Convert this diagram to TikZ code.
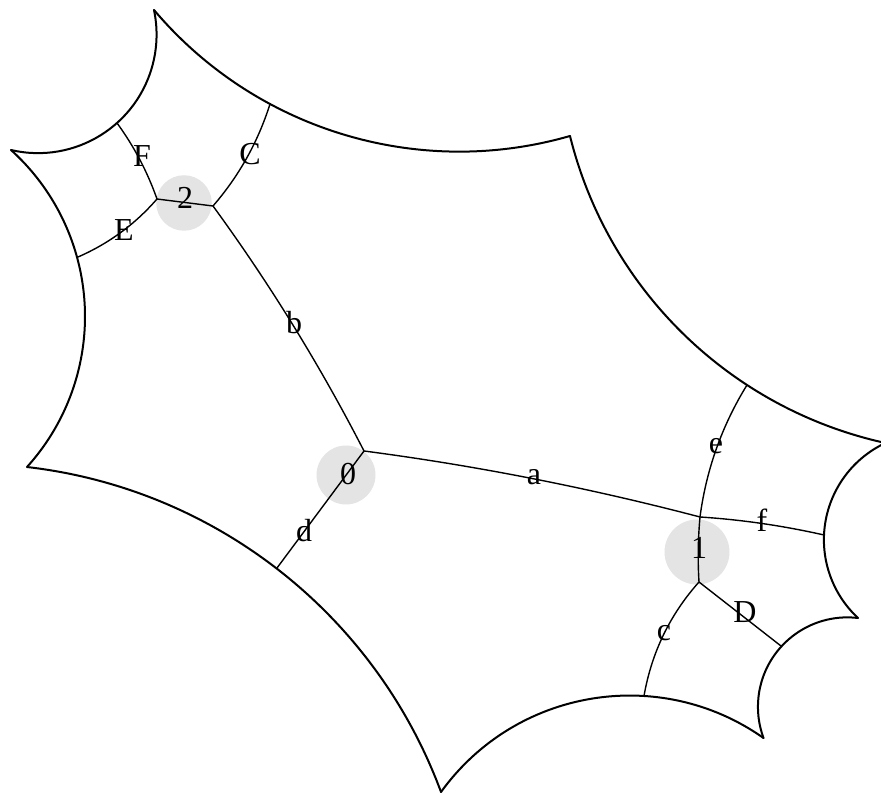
\documentclass[tikz,border=0pt]{standalone}
\usepackage{fontspec}
\usetikzlibrary{calc}
\setmainfont{Liberation Serif}
\newcommand\geoarc[7]{%
  % #1 start coordinate name; numeric start (#2,#3), through (#4,#5), end (#6,#7)
  \pgfmathsetmacro\ax{#2/100}\pgfmathsetmacro\ay{#3/100}%
  \pgfmathsetmacro\bx{#4/100}\pgfmathsetmacro\by{#5/100}%
  \pgfmathsetmacro\cx{#6/100}\pgfmathsetmacro\cy{#7/100}%
  \pgfmathsetmacro\dd{2*(\ax*(\by-\cy)+\bx*(\cy-\ay)+\cx*(\ay-\by))}%
  \pgfmathsetmacro\sa{\ax*\ax+\ay*\ay}\pgfmathsetmacro\sb{\bx*\bx+\by*\by}\pgfmathsetmacro\sc{\cx*\cx+\cy*\cy}%
  \pgfmathsetmacro\ux{(\sa*(\by-\cy)+\sb*(\cy-\ay)+\sc*(\ay-\by))/\dd}%
  \pgfmathsetmacro\uy{(\sa*(\cx-\bx)+\sb*(\ax-\cx)+\sc*(\bx-\ax))/\dd}%
  \pgfmathsetmacro\rr{100*veclen(\ax-\ux,\ay-\uy)}%
  \pgfmathsetmacro\tstart{atan2(\ay-\uy,\ax-\ux)}%
  \pgfmathsetmacro\tend{atan2(\cy-\uy,\cx-\ux)}%
  \pgfmathsetmacro\tfinal{\dd>0 ? (\tend<\tstart ? \tend+360 : \tend) : (\tend>\tstart ? \tend-360 : \tend)}%
  \draw[boundary] (#1) arc[start angle=\tstart,end angle=\tfinal,radius=\rr];%
}
% true quadratic curve from #1 to #3 with control #2
\newcommand\qedge[3]{\draw[edgeline] (#1) .. controls ($(#1)!0.6667!(#2)$) and ($(#3)!0.6667!(#2)$) .. (#3);}
\definecolor{hubgrey}{HTML}{E4E4E4}
\tikzset{
  boundary/.style={line width=2pt,black,line cap=round,line join=round},
  edgeline/.style={line width=1.4pt,black},
  hub/.style={circle,fill=hubgrey,draw=none,inner sep=0pt},
  lab/.style={inner sep=0pt,font=\fontsize{32}{32}\selectfont,text=black}
}
\begin{document}
\begin{tikzpicture}[x=1pt,y=1pt]
\useasboundingbox (0,0) rectangle (881,794);
% grey discs
\node[hub,minimum size=59pt] (h0) at (346,319) {};
\node[hub,minimum size=65pt] (h1) at (697,242) {};
\node[hub,minimum size=55.5pt] (h2) at (184,591) {};
% outer vertices
\coordinate (A) at (154,784);
\coordinate (B) at (570,658);
\coordinate (C) at (885.4,351);
\coordinate (D) at (858,176);
\coordinate (E) at (763.5,56);
\coordinate (F) at (441,2);
\coordinate (G) at (27,327);
\coordinate (H) at (11,644);
% boundary arcs
\geoarc{A}{154}{784}{270}{690}{570}{658}
\geoarc{B}{570}{658}{747}{409}{885.4}{351}
\geoarc{C}{885.4}{351}{824}{259}{858}{176}
\geoarc{D}{858}{176}{758}{91}{763.5}{56}
\geoarc{E}{763.5}{56}{644}{98}{441}{2}
\geoarc{F}{441}{2}{276}{226}{27}{327}
\geoarc{G}{27}{327}{85}{479}{11}{644}
\geoarc{H}{11}{644}{117}{671}{154}{784}
% graph vertices
\coordinate (v0) at (364,343);
\coordinate (v1) at (700,277);
\coordinate (v1b) at (699,212);
\coordinate (v2) at (157,595);
\coordinate (v2b) at (213,588);
% free ends on the boundary
\coordinate (tF) at (117,671);
\coordinate (tC) at (270,690);
\coordinate (tE) at (78,537);
\coordinate (td) at (277,226);
\coordinate (te) at (747,409);
\coordinate (tf) at (824,259);
\coordinate (tc) at (644,98);
\coordinate (tD) at (781,148);
% control points
\coordinate (ca) at (532,321);
\coordinate (cb) at (298,471.5);
\coordinate (ce) at (709.4,348);
\coordinate (cc) at (655.3,163);
\coordinate (cf) at (762,273);
\coordinate (cv) at (697,244);
\coordinate (cF) at (142.5,636);
\coordinate (cE) at (124,557);
\coordinate (cC) at (252,633);
% edges
\qedge{v0}{ca}{v1}
\qedge{v0}{cb}{v2b}
\draw[edgeline] (v0) -- (td);
\qedge{v1}{ce}{te}
\qedge{v1}{cf}{tf}
\qedge{v1}{cv}{v1b}
\qedge{v1b}{cc}{tc}
\draw[edgeline] (v1b) -- (tD);
\draw[edgeline] (v2) -- (v2b);
\qedge{v2}{cF}{tF}
\qedge{v2}{cE}{tE}
\qedge{v2b}{cC}{tC}
% labels
\node[lab] (n0) at (348,320) {0};
\node[lab] (n1) at (699,246) {1};
\node[lab] (n2) at (185,596) {2};
\node[lab] (la) at (534,317) {a};
\node[lab] (lb) at (294,471) {b};
\node[lab] (lc) at (664,161) {c};
\node[lab] (ld) at (304,263) {d};
\node[lab] (le) at (716,348) {e};
\node[lab] (lf) at (762,274) {f};
\node[lab] (lC) at (250,640) {C};
\node[lab] (lD) at (745,182) {D};
\node[lab] (lE) at (124,564) {E};
\node[lab] (lF) at (142,638) {F};
\end{tikzpicture}
\end{document}
